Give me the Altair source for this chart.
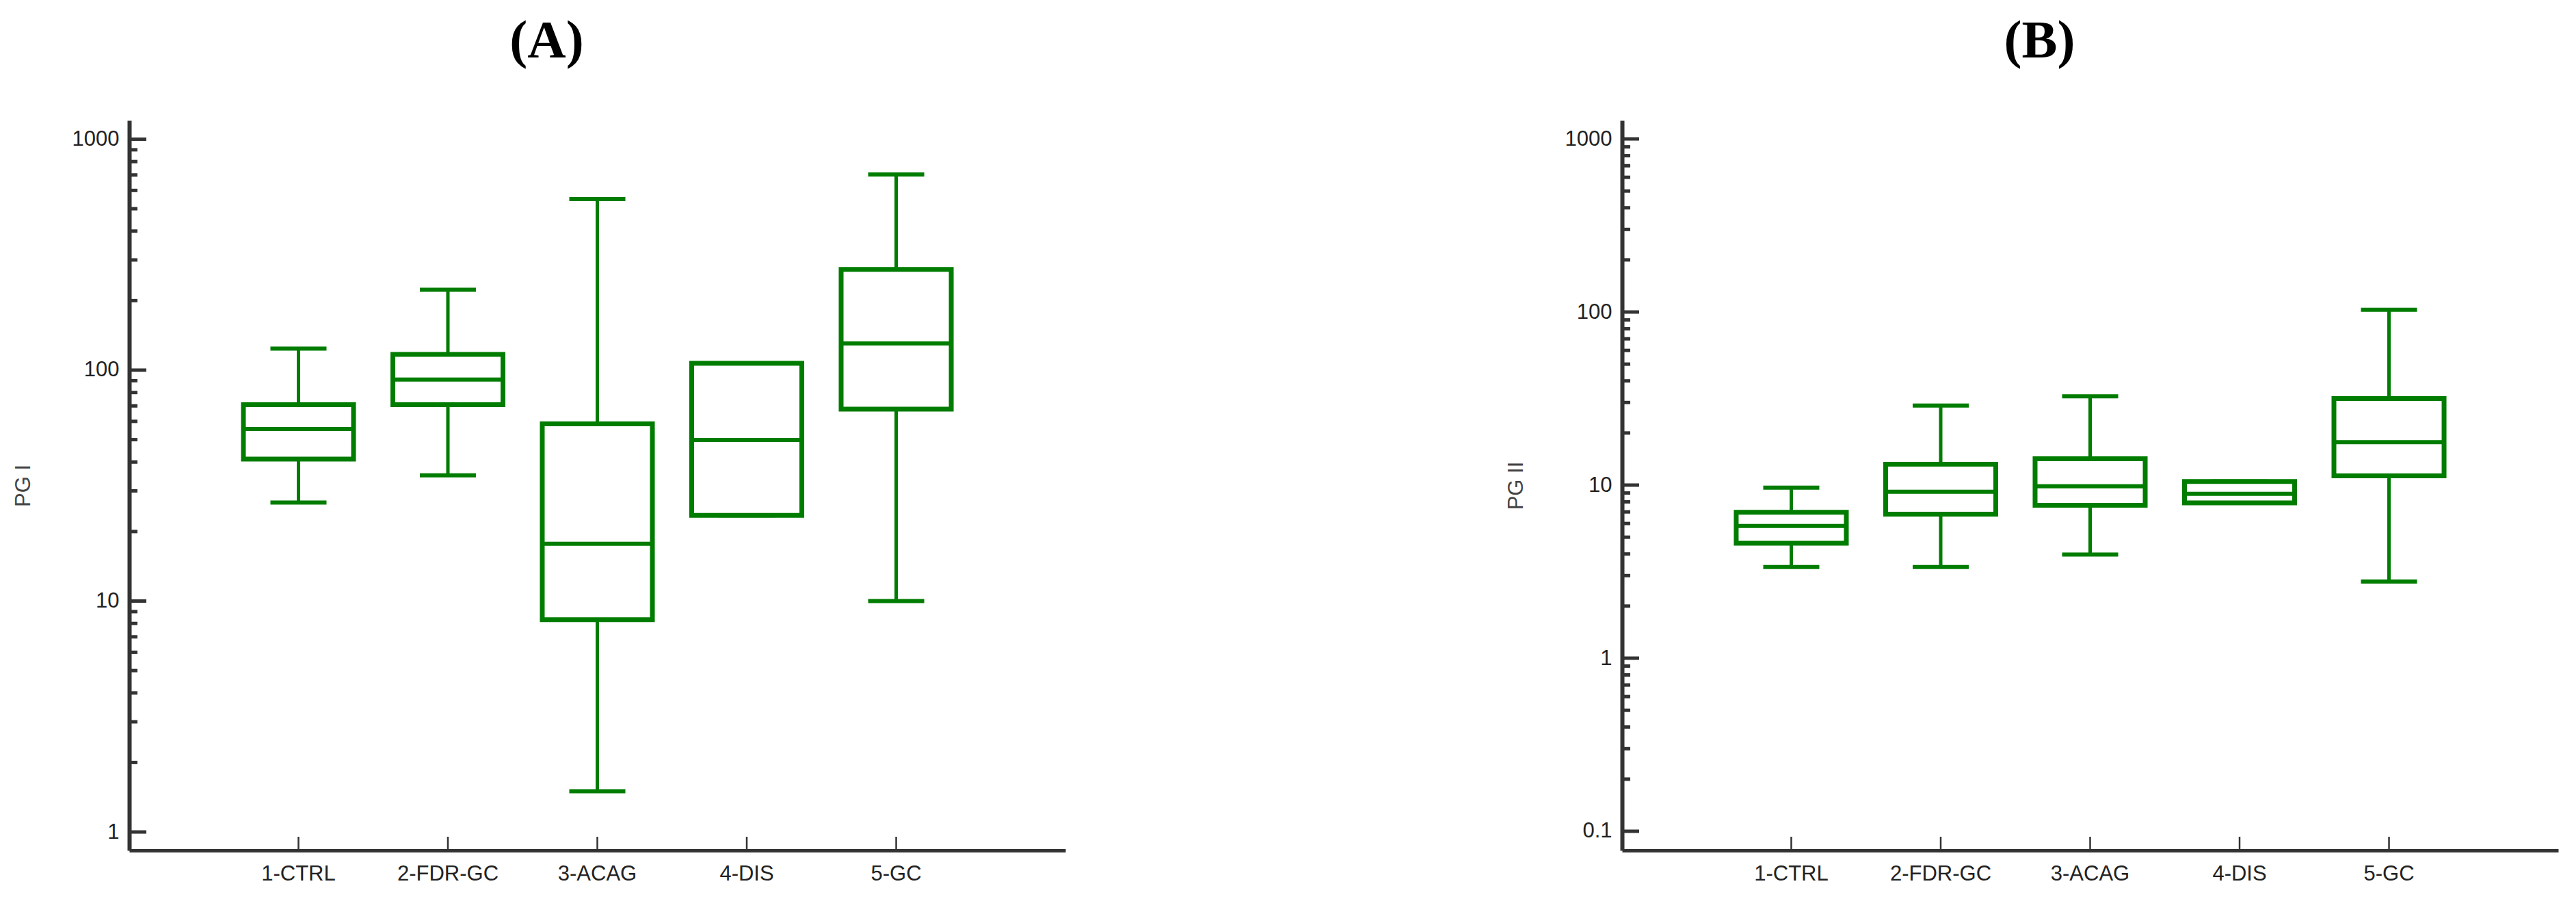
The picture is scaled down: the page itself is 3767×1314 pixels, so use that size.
import altair as alt
import pandas as pd

groups = ["1-CTRL", "2-FDR-GC", "3-ACAG", "4-DIS", "5-GC"]

# Panel A: PG I
a_low = [26.7, 35.0, 1.5, 23.5, 10.0]
a_q1 = [41.2, 70.8, 8.3, 23.5, 67.8]
a_med = [55.6, 91.0, 17.7, 49.9, 130.5]
a_q3 = [70.8, 117.0, 58.5, 107.0, 273.0]
a_high = [124.0, 223.0, 550.0, 107.0, 704.0]

# Panel B: PG II
b_low = [3.36, 3.36, 3.97, 7.9, 2.77]
b_q1 = [4.61, 6.79, 7.65, 7.9, 11.3]
b_med = [5.81, 9.16, 9.85, 8.9, 17.7]
b_q3 = [6.96, 13.2, 14.2, 10.5, 31.6]
b_high = [9.67, 28.8, 32.6, 10.5, 103.0]

a_major = [1, 10, 100, 1000]
a_minor = [m * d for d in [1, 10, 100] for m in range(2, 10)]
b_major = [0.1, 1, 10, 100, 1000]
b_minor = [round(m * d, 3) for d in [0.1, 1, 10, 100] for m in range(2, 10)]

GREEN = "#007c00"
AXIS = "#333333"
W, H = 1369, 1067


def panel(low, q1, med, q3, high, major, minor, dom, ytitle, title):
    df = pd.DataFrame({"group": groups, "low": low, "q1": q1, "med": med,
                       "q3": q3, "high": high})
    xenc = alt.X("group:N", sort=groups,
                 scale=alt.Scale(type="band", paddingInner=0.263, paddingOuter=0.764),
                 axis=alt.Axis(title=None, labelAngle=0, ticks=False, grid=False,
                               domainWidth=5, domainColor=AXIS,
                               labelFont="Liberation Sans", labelFontSize=31,
                               labelColor="#222222", labelPadding=19))
    ysc = alt.Scale(type="log", domain=dom, nice=False)
    yax = alt.Axis(values=major, format="~g", ticks=False, grid=False,
                   domainWidth=6, domainColor=AXIS,
                   labelFont="Liberation Sans", labelFontSize=31,
                   labelColor="#222222", labelPadding=15,
                   titleFont="Liberation Sans", titleFontSize=31,
                   titleFontWeight="normal", titleColor="#444444",
                   titlePadding=55)

    def Y(f):
        return alt.Y(f, scale=ysc, axis=yax, title=ytitle)

    base = alt.Chart(df).encode(x=xenc)
    whisk = base.mark_rule(color=GREEN, strokeWidth=5).encode(y=Y("low:Q"), y2="high:Q")
    box = base.mark_bar(fill="white", stroke=GREEN, strokeWidth=7, opacity=1).encode(
        y=Y("q1:Q"), y2="q3:Q")
    medt = base.mark_tick(color=GREEN, thickness=6, size=158, opacity=1).encode(y=Y("med:Q"))
    caplo = base.mark_tick(color=GREEN, thickness=6, size=82, opacity=1).encode(y=Y("low:Q"))
    caphi = base.mark_tick(color=GREEN, thickness=6, size=82, opacity=1).encode(y=Y("high:Q"))
    cticks = base.mark_rule(color=AXIS, strokeWidth=2.5).encode(
        y=alt.value(H), y2=alt.value(H - 20))
    majt = alt.Chart(pd.DataFrame({"v": major})).mark_rule(color=AXIS, strokeWidth=5).encode(
        y=Y("v:Q"), x=alt.value(0), x2=alt.value(25))
    mint = alt.Chart(pd.DataFrame({"v": minor})).mark_rule(color=AXIS, strokeWidth=5).encode(
        y=Y("v:Q"), x=alt.value(0), x2=alt.value(12))
    return alt.layer(whisk, box, medt, caplo, caphi, cticks, majt, mint).properties(
        width=W, height=H,
        title=alt.TitleParams(text=title, font="Liberation Serif", fontSize=78,
                              fontWeight="bold", color="black", dx=-74, offset=76))


pa = panel(a_low, a_q1, a_med, a_q3, a_high, a_major, a_minor, [0.832, 1206], "PG I", "(A)")
pb = panel(b_low, b_q1, b_med, b_q3, b_high, b_major, b_minor, [0.0775, 1279], "PG II", "(B)")

chart = alt.hconcat(pa, pb, spacing=643).properties(
    padding={"left": 10, "top": 14, "right": 5, "bottom": 5}
).configure_view(stroke=None).resolve_scale(y="independent")

chart.save("out.html", embed_options={"renderer": "svg", "actions": False})
